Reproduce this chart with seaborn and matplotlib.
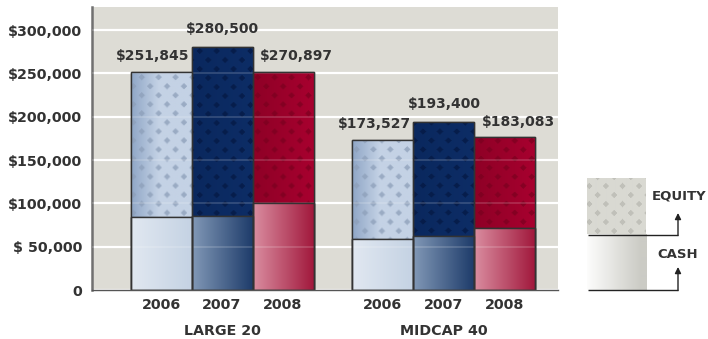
import numpy as np
import pandas as pd
import matplotlib
matplotlib.use("Agg")
import matplotlib.pyplot as plt
import seaborn as sns
from matplotlib.colors import to_rgb

# ---------------- data ----------------
groups = ["LARGE 20", "MIDCAP 40"]
years = ["2006", "2007", "2008"]
total_large = [251845, 280500, 252000]
cash_large = [84300, 85800, 100000]
total_mid = [173527, 193400, 176300]
cash_mid = [59200, 62000, 71200]
label_large = ["$251,845", "$280,500", "$270,897"]
label_mid = ["$173,527", "$193,400", "$183,083"]
yticks = [0, 50000, 100000, 150000, 200000, 250000, 300000]
ytick_labels = ["0", "$ 50,000", "$100,000", "$150,000", "$200,000", "$250,000", "$300,000"]
legend_labels = ["EQUITY", "CASH"]

df = pd.DataFrame({
    "group": [groups[0]] * 3 + [groups[1]] * 3,
    "year": years * 2,
    "total": total_large + total_mid,
    "cash": cash_large + cash_mid,
    "label": label_large + label_mid,
})

# ---------------- style ----------------
sns.set_theme(style="white")
FONT = ["DejaVu Sans"]
plt.rcParams["font.family"] = FONT
TXT = "#333333"
FS = 10.3

W, H, DPI = 708, 339, 100
fig = plt.figure(figsize=(W / DPI, H / DPI), dpi=DPI)
fig.patch.set_facecolor("white")

AX_L, AX_R, AX_T, AX_B = 92, 558, 7, 290
ax = fig.add_axes([AX_L / W, (H - AX_B) / H, (AX_R - AX_L) / W, (AX_B - AX_T) / H])
ax.set_facecolor("#dddcd5")

eq_base = ["#b7c7dc", "#0d2c64", "#a0002c"]
cash_base = ["#d6dfea", "#4f6b92", "#c4516c"]

sns.barplot(data=df, x="group", y="total", hue="year", order=groups, hue_order=years,
            palette=eq_base, width=0.825, saturation=1, edgecolor="#333333",
            linewidth=1.0, legend=False, errorbar=None, ax=ax, zorder=2)
n_eq = len(ax.containers)
sns.barplot(data=df, x="group", y="cash", hue="year", order=groups, hue_order=years,
            palette=cash_base, width=0.825, saturation=1, edgecolor="#333333",
            linewidth=1.0, legend=False, errorbar=None, ax=ax, zorder=3)

ax.set_xlim(-0.586, 1.514)
ax.set_ylim(0, 326700)


# ---------------- textures ----------------
def texture(wpx, hpx, x0, ytop, left, right, dot=None, dot_a=0.0, ramp=1.0,
            px=16.6, py=18.0, rad=3.2):
    wpx, hpx = max(int(round(wpx)), 1), max(int(round(hpx)), 1)
    t = (np.arange(wpx) + 0.5) / wpx
    t = np.clip(t / ramp, 0, 1)
    left, right = np.array(to_rgb(left)), np.array(to_rgb(right))
    row = left[None, :] * (1 - t)[:, None] + right[None, :] * t[:, None]
    img = np.repeat(row[None, :, :], hpx, axis=0)
    if dot is not None:
        xs = np.arange(wpx) + x0 + 0.5
        ys = ytop - (np.arange(hpx) + 0.5)
        X, Y = np.meshgrid(xs, ys)
        dx1 = np.abs(np.mod(X, px) - px / 2)
        dy1 = np.abs(np.mod(Y, py) - py / 2)
        dx2 = np.abs(np.mod(X + px / 2, px) - px / 2)
        dy2 = np.abs(np.mod(Y + py / 2, py) - py / 2)
        d = np.minimum(dx1 + dy1, dx2 + dy2)
        a = np.clip(rad + 0.5 - d, 0, 1)[:, :, None] * dot_a
        img = img * (1 - a) + np.array(to_rgb(dot))[None, None, :] * a
    return img


eq_tex = [("#8fa6c6", "#c4d2e5", "#8d9fb9", 0.75, 0.45),
          ("#0a285e", "#0d2d66", "#051944", 0.75, 1.0),
          ("#8e0026", "#a8002f", "#7a001f", 0.7, 1.0)]
cash_tex = [("#e1e8f1", "#c4d2e3", 1.0),
            ("#8299b7", "#1c3a69", 1.0),
            ("#da8ea1", "#a0163a", 1.0)]

fig.canvas.draw()
tr = ax.transData


def overlay(patch, img_fn, z):
    x, y, w, h = patch.get_x(), patch.get_y(), patch.get_width(), patch.get_height()
    (px0, py0) = tr.transform((x, y))
    (px1, py1) = tr.transform((x + w, y + h))
    img = img_fn(px1 - px0, py1 - py0, px0, py1)
    im = ax.imshow(img, extent=(x, x + w, y, y + h), aspect="auto", origin="upper",
                   interpolation="bilinear", zorder=z)
    im.set_clip_path(patch)


for i, cont in enumerate(ax.containers[:n_eq]):
    l, r, dcol, da, ramp = eq_tex[i]
    for p in cont:
        overlay(p, lambda w, h, x0, yt, l=l, r=r, dcol=dcol, da=da, ramp=ramp:
                texture(w, h, x0, yt, l, r, dcol, da, ramp), 2.05)
for i, cont in enumerate(ax.containers[n_eq:]):
    l, r, ramp = cash_tex[i]
    for p in cont:
        overlay(p, lambda w, h, x0, yt, l=l, r=r, ramp=ramp:
                texture(w, h, x0, yt, l, r, ramp=ramp), 3.05)

# redraw bar edges above textures
for cont in ax.containers:
    for p in cont:
        ax.add_patch(plt.Rectangle((p.get_x(), p.get_y()), p.get_width(), p.get_height(),
                                   fill=False, edgecolor="#333333", lw=1.0, zorder=4))

# ---------------- grid / axes ----------------
ax.set_yticks(yticks)
ax.set_yticklabels(ytick_labels)
ax.yaxis.grid(True, color="white", lw=1.6, zorder=0)
ax.set_axisbelow(True)
for yv in yticks[1:]:
    ax.axhline(yv, color="white", lw=1.2, alpha=0.18, zorder=3.6)

for s in ["top", "right"]:
    ax.spines[s].set_visible(False)
ax.spines["left"].set_color("#707070")
ax.spines["left"].set_linewidth(1.8)
ax.spines["bottom"].set_color("#555555")
ax.spines["bottom"].set_linewidth(1.0)
ax.spines["bottom"].set_zorder(5)

centers = []
year_lbls = []
for gi in range(len(groups)):
    for yi in range(len(years)):
        p = ax.containers[yi][gi]
        centers.append(p.get_x() + p.get_width() / 2)
        year_lbls.append(years[yi])
ax.set_xticks(centers)
ax.set_xticklabels(year_lbls)
ax.tick_params(axis="x", length=0, pad=6, labelsize=FS, labelcolor=TXT)
ax.tick_params(axis="y", length=0, pad=7, labelsize=FS, labelcolor=TXT)
for lab in ax.get_xticklabels() + ax.get_yticklabels():
    lab.set_fontweight("bold")
ax.set_xlabel("")
ax.set_ylabel("")

# group labels
for gi, g in enumerate(groups):
    ax.annotate(g, xy=(gi, 0), xycoords=("data", "axes fraction"), xytext=(0, -41),
                textcoords="offset pixels", ha="center", va="center", fontsize=FS,
                fontweight="bold", color=TXT)

# total labels
xoff = [-8, 0, 13]
yoff = [8.5, 11.5, 8.5]
for gi in range(len(groups)):
    for yi in range(len(years)):
        p = ax.containers[yi][gi]
        lab = df[(df.group == groups[gi]) & (df.year == years[yi])]["label"].iloc[0]
        ax.annotate(lab, xy=(p.get_x() + p.get_width() / 2, p.get_height()),
                    xytext=(xoff[yi], yoff[yi]), textcoords="offset pixels",
                    ha="center", va="bottom", fontsize=10, fontweight="bold", color=TXT,
                    zorder=6)

# ---------------- legend ----------------
LX0, LX1, LYT, LYB = 580, 708, 170, 300
lax = fig.add_axes([LX0 / W, (H - LYB) / H, (LX1 - LX0) / W, (LYB - LYT) / H])
lax.set_xlim(LX0, LX1)
lax.set_ylim(H - LYB, H - LYT)
lax.axis("off")


def ly(yp):
    return H - yp


eq_img = texture(59, 57, 587, ly(178), "#d9d9d2", "#d9d9d2", "#bcbcb5", 0.85)
lax.imshow(eq_img, extent=(587, 646, ly(235), ly(178)), aspect="auto", origin="upper",
           interpolation="bilinear", zorder=1)
cash_img = texture(60, 55, 587, ly(235), "#fdfdfc", "#cbcbc5", ramp=0.9)
lax.imshow(cash_img, extent=(587, 647, ly(290), ly(235)), aspect="auto", origin="upper",
           interpolation="bilinear", zorder=1)
lax.set_xlim(LX0, LX1)
lax.set_ylim(H - LYB, H - LYT)

for yb, ytop in [(235, 213), (290, 267)]:
    lax.plot([588, 678], [ly(yb), ly(yb)], color="#222222", lw=1.0, zorder=3,
             solid_capstyle="butt")
    lax.annotate("", xy=(678, ly(ytop)), xytext=(678, ly(yb) - 0.5),
                 arrowprops=dict(arrowstyle="-|>", color="#222222", lw=1.0,
                                 mutation_scale=9, shrinkA=0, shrinkB=0), zorder=3)
lax.text(652, ly(196), legend_labels[0], ha="left", va="center", fontsize=9.5,
         fontweight="bold", color=TXT)
lax.text(657, ly(255), legend_labels[1], ha="left", va="center", fontsize=9.5,
         fontweight="bold", color=TXT)

fig.savefig("out.png", dpi=DPI, facecolor="white")
